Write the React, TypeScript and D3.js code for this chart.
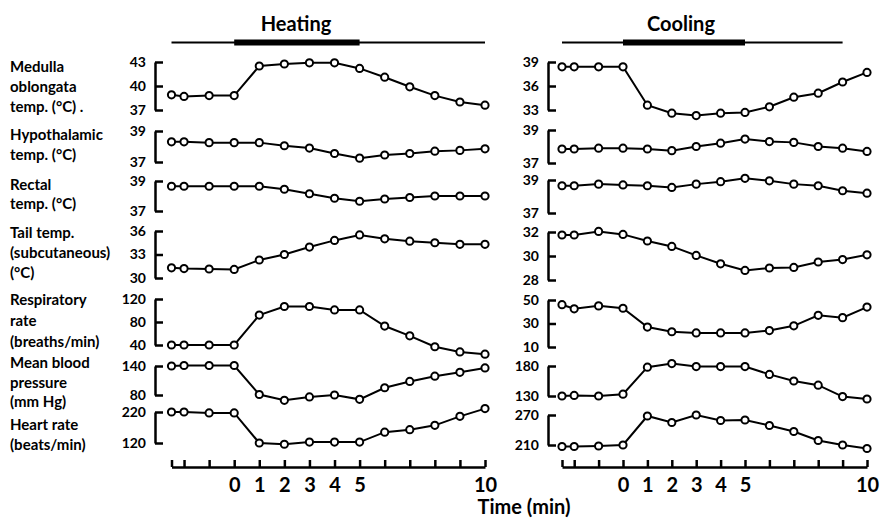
import React, { useEffect, useRef } from 'react';
import * as d3 from 'd3';

// time of each reading (min) – the first three are control readings before onset
const times = [-2.5, -2, -1, 0, 1, 2, 3, 4, 5, 6, 7, 8, 9, 10];
const xTickLabels = [0, 1, 2, 3, 4, 5, 10];

const panelTitles = ['Heating', 'Cooling'];

const rowLabels = [
  ['Medulla', 'oblongata', 'temp. (°C) .'],
  ['Hypothalamic', 'temp. (°C)'],
  ['Rectal', 'temp. (°C)'],
  ['Tail temp.', '(subcutaneous)', '(°C)'],
  ['Respiratory', 'rate', '(breaths/min)'],
  ['Mean blood', 'pressure', '(mm Hg)'],
  ['Heart rate', '(beats/min)'],
];

// heating
const heatMedulla = [38.9, 38.7, 38.8, 38.8, 42.5, 42.75, 42.9, 42.9, 42.2, 41.1, 39.9, 38.8, 38.0, 37.6];
const heatHypo = [38.3, 38.3, 38.25, 38.25, 38.25, 38.05, 37.9, 37.55, 37.25, 37.45, 37.55, 37.7, 37.75, 37.85];
const heatRectal = [38.65, 38.65, 38.65, 38.65, 38.65, 38.45, 38.15, 37.85, 37.65, 37.8, 37.9, 38.0, 38.0, 38.0];
const heatTail = [31.3, 31.2, 31.15, 31.1, 32.3, 33.0, 33.95, 34.8, 35.5, 35.0, 34.7, 34.5, 34.3, 34.3];
const heatResp = [40, 40, 40, 40, 92, 107, 107, 101, 101, 73, 56, 37, 28, 24];
const heatMBP = [140, 141, 141, 141, 81, 69, 76, 80, 71, 95, 108, 119, 127, 136];
const heatHR = [220, 220, 217, 217, 120, 116, 123, 123, 123, 155, 163, 177, 206, 231];

// cooling
const coolMedulla = [38.4, 38.4, 38.4, 38.4, 33.6, 32.6, 32.3, 32.6, 32.7, 33.4, 34.6, 35.1, 36.5, 37.7];
const coolHypo = [37.85, 37.85, 37.9, 37.9, 37.85, 37.75, 38.0, 38.2, 38.45, 38.3, 38.25, 38.0, 37.9, 37.7];
const coolRectal = [38.65, 38.65, 38.75, 38.7, 38.65, 38.55, 38.75, 38.9, 39.1, 38.95, 38.75, 38.65, 38.35, 38.2];
const coolTail = [31.75, 31.75, 32.05, 31.8, 31.25, 30.8, 30.05, 29.35, 28.8, 29.0, 29.05, 29.5, 29.7, 30.1];
const coolResp = [46, 42.5, 45, 43, 27, 23, 22, 22, 22, 24, 28, 37, 35, 44];
const coolMBP = [130, 131, 130, 133, 178, 184, 179, 179, 179, 166, 155, 148, 129, 125];
const coolHR = [207, 207, 208, 210, 268, 255, 270, 259, 260, 249, 237, 219, 210, 203];

// y-axis tick labels per row
const heatTicks = [[37, 40, 43], [37, 39], [37, 39], [30, 33, 36], [40, 80, 120], [80, 140], [120, 220]];
const coolTicks = [[33, 36, 39], [37, 39], [37, 39], [28, 30, 32], [10, 30, 50], [130, 180], [210, 270]];

// stimulus bar: whole period and the on period (thick)
const heatBar = [-2.5, 10];
const coolBar = [-2.5, 9];
const stimOn = [0, 5];

const heatSeries = [heatMedulla, heatHypo, heatRectal, heatTail, heatResp, heatMBP, heatHR];
const coolSeries = [coolMedulla, coolHypo, coolRectal, coolTail, coolResp, coolMBP, coolHR];

const W = 880;
const H = 521;
const FONT = 'Lato, "DejaVu Sans", sans-serif';

const panels = [
  {
    title: panelTitles[0], series: heatSeries, ticks: heatTicks, bar: heatBar,
    x0: 171.5, x1: 485, axisX: 155, titleX: 296,
    bands: [[62, 110], [131, 162], [181, 211], [231, 278], [299, 345], [366, 395], [412, 443]],
  },
  {
    title: panelTitles[1], series: coolSeries, ticks: coolTicks, bar: coolBar,
    x0: 562, x1: 867, axisX: 548, titleX: 681,
    bands: [[62, 110], [130, 163], [180, 213], [232, 280], [300, 347], [366, 396], [415, 445]],
  },
];

const labelFirst = [72, 140, 190, 238, 305, 368, 430];
const labelStep = [20, 20, 19, 20, 21, 19.5, 20];

export default function App() {
  const ref = useRef<SVGSVGElement>(null);

  useEffect(() => {
    const svg = d3.select(ref.current);
    svg.selectAll('*').remove();

    // row labels
    rowLabels.forEach((lines, r) => {
      lines.forEach((t, i) => {
        svg.append('text')
          .attr('x', 10)
          .attr('y', labelFirst[r] + i * labelStep[r])
          .attr('font-family', FONT)
          .attr('font-weight', 700)
          .attr('font-size', 15)
          .text(t);
      });
    });

    panels.forEach(p => {
      const x = d3.scaleLinear().domain([-2.5, 10]).range([p.x0, p.x1]);

      // title + stimulus bar
      svg.append('text')
        .attr('x', p.titleX)
        .attr('y', 31)
        .attr('text-anchor', 'middle')
        .attr('font-family', FONT)
        .attr('font-weight', 700)
        .attr('font-size', 20)
        .text(p.title);
      svg.append('line')
        .attr('x1', x(p.bar[0])).attr('x2', x(p.bar[1]))
        .attr('y1', 42.5).attr('y2', 42.5)
        .attr('stroke', '#000').attr('stroke-width', 2);
      svg.append('line')
        .attr('x1', x(stimOn[0])).attr('x2', x(stimOn[1]))
        .attr('y1', 42.5).attr('y2', 42.5)
        .attr('stroke', '#000').attr('stroke-width', 6);

      p.series.forEach((vals, r) => {
        const tk = p.ticks[r];
        const [top, bottom] = p.bands[r];
        const y = d3.scaleLinear().domain([tk[0], tk[tk.length - 1]]).range([bottom, top]);

        // bracket-style y axis
        const ax = svg.append('g')
          .attr('transform', `translate(${p.axisX},0)`)
          .call(d3.axisLeft(y).tickValues(tk).tickSizeInner(-8).tickSizeOuter(0).tickPadding(9).tickFormat(d3.format('d')));
        ax.select('.domain').attr('stroke-width', 2.5);
        ax.selectAll('.tick line').attr('stroke-width', 2.5);
        ax.selectAll('text')
          .attr('font-family', FONT)
          .attr('font-weight', 700)
          .attr('font-size', 14)
          .attr('fill', '#000');

        const pts = times.map((t, i) => [t, vals[i]] as [number, number]);
        svg.append('path')
          .datum(pts)
          .attr('fill', 'none')
          .attr('stroke', '#000')
          .attr('stroke-width', 2)
          .attr('d', d3.line<[number, number]>().x(d => x(d[0])).y(d => y(d[1])));

        svg.append('g')
          .selectAll('circle')
          .data(pts)
          .enter()
          .append('circle')
          .attr('cx', d => x(d[0]))
          .attr('cy', d => y(d[1]))
          .attr('r', 3.6)
          .attr('fill', '#fff')
          .attr('stroke', '#000')
          .attr('stroke-width', 2);
      });

      // time axis
      const xa = svg.append('g')
        .attr('transform', 'translate(0,467)')
        .call(d3.axisBottom(x).tickValues(times).tickSizeInner(-7).tickSizeOuter(0).tickPadding(11)
          .tickFormat(d => (xTickLabels.includes(d as number) ? String(d) : '')));
      xa.select('.domain').attr('stroke-width', 2.5);
      xa.selectAll('.tick line').attr('stroke-width', 2.5);
      xa.selectAll('text')
        .attr('font-family', FONT)
        .attr('font-weight', 700)
        .attr('font-size', 20)
        .attr('fill', '#000');
    });

    svg.append('text')
      .attr('x', 524)
      .attr('y', 514)
      .attr('text-anchor', 'middle')
      .attr('font-family', FONT)
      .attr('font-weight', 700)
      .attr('font-size', 20)
      .text('Time (min)');
  }, []);

  return (
    <svg
      ref={ref}
      width={W}
      height={H}
      style={{ position: 'absolute', left: 0, top: 0, background: '#fff' }}
    />
  );
}
